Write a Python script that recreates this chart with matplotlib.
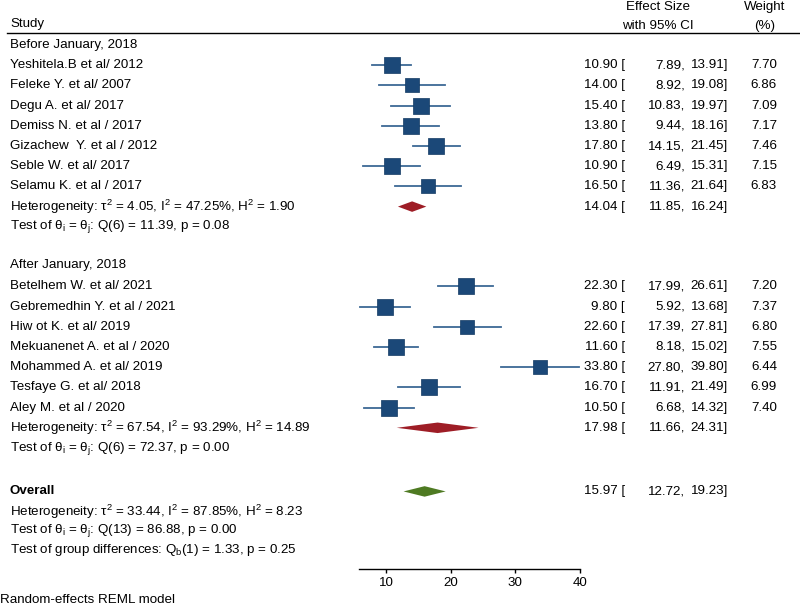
import matplotlib
matplotlib.use("Agg")
import matplotlib.pyplot as plt
import matplotlib.transforms as mtransforms
from matplotlib.lines import Line2D

plt.rcParams['font.family'] = ['Liberation Sans', 'DejaVu Sans']
plt.rcParams['mathtext.fontset'] = 'custom'
plt.rcParams['mathtext.rm'] = 'Liberation Sans'
plt.rcParams['mathtext.it'] = 'Liberation Sans:italic'

# ---- data ----
before_names = ["Yeshitela.B et al/ 2012", "Feleke Y. et al/ 2007", "Degu A. et al/ 2017",
                "Demiss N. et al / 2017", "Gizachew  Y. et al / 2012", "Seble W. et al/ 2017",
                "Selamu K. et al / 2017"]
before_es = [10.90, 14.00, 15.40, 13.80, 17.80, 10.90, 16.50]
before_lo = [7.89, 8.92, 10.83, 9.44, 14.15, 6.49, 11.36]
before_hi = [13.91, 19.08, 19.97, 18.16, 21.45, 15.31, 21.64]
before_w = [7.70, 6.86, 7.09, 7.17, 7.46, 7.15, 6.83]
before_pool = [14.04, 11.85, 16.24]
before_het = r"Heterogeneity: τ$^\mathrm{2}$ = 4.05, I$^\mathrm{2}$ = 47.25%, H$^\mathrm{2}$ = 1.90"
before_test = r"Test of θ$_\mathrm{i}$ = θ$_\mathrm{j}$: Q(6) = 11.39, p = 0.08"

after_names = ["Betelhem W. et al/ 2021", "Gebremedhin Y. et al / 2021", "Hiw ot K. et al/ 2019",
               "Mekuanenet A. et al / 2020", "Mohammed A. et al/ 2019", "Tesfaye G. et al/ 2018",
               "Aley M. et al / 2020"]
after_es = [22.30, 9.80, 22.60, 11.60, 33.80, 16.70, 10.50]
after_lo = [17.99, 5.92, 17.39, 8.18, 27.80, 11.91, 6.68]
after_hi = [26.61, 13.68, 27.81, 15.02, 39.80, 21.49, 14.32]
after_w = [7.20, 7.37, 6.80, 7.55, 6.44, 6.99, 7.40]
after_pool = [17.98, 11.66, 24.31]
after_het = r"Heterogeneity: τ$^\mathrm{2}$ = 67.54, I$^\mathrm{2}$ = 93.29%, H$^\mathrm{2}$ = 14.89"
after_test = r"Test of θ$_\mathrm{i}$ = θ$_\mathrm{j}$: Q(6) = 72.37, p = 0.00"

overall_pool = [15.97, 12.72, 19.23]
overall_het = r"Heterogeneity: τ$^\mathrm{2}$ = 33.44, I$^\mathrm{2}$ = 87.85%, H$^\mathrm{2}$ = 8.23"
overall_test = r"Test of θ$_\mathrm{i}$ = θ$_\mathrm{j}$: Q(13) = 86.88, p = 0.00"
group_test = r"Test of group differences: Q$_\mathrm{b}$(1) = 1.33, p = 0.25"

xticks = [10, 20, 30, 40]

SQ = '#1b4878'
CI = '#3d6995'
RED = '#9e1d26'
GREEN = '#4e7a22'
FS = 9.6

fig = plt.figure(figsize=(8, 6.1), dpi=100)
ax = fig.add_axes([359/800, 1-569/610, 221/800, 569/610])
ax.set_xlim(5.83, 40)
ax.set_ylim(25.94, -2.228)
for s in ['left', 'top', 'right']:
    ax.spines[s].set_visible(False)
ax.spines['bottom'].set_linewidth(1.0)
ax.set_yticks([])
ax.set_xticks(xticks)
ax.tick_params(axis='x', length=3, width=1, pad=3, labelsize=FS)

tr = mtransforms.blended_transform_factory(fig.transFigure, ax.transData)

def txt(xpx, y, s, ha='left', **kw):
    ax.text(xpx/800, y, s, transform=tr, ha=ha, va='center', fontsize=FS, clip_on=False, **kw)

def num_cols(y, es, lo, hi, w=None):
    txt(625, y, "%.2f [" % es, ha='right')
    txt(685, y, "%.2f," % lo, ha='right')
    txt(728, y, "%.2f]" % hi, ha='right')
    if w is not None:
        txt(777, y, "%.2f" % w, ha='right')

def diamond(y, pool, color):
    es, lo, hi = pool
    h = 0.26
    ax.fill([lo, es, hi, es], [y, y-h, y, y+h], color=color, lw=0, clip_on=False)

def studies(start, names, es, lo, hi, w):
    for i in range(len(names)):
        y = start + i
        txt(10, y, names[i])
        ax.plot([lo[i], hi[i]], [y, y], color=CI, lw=1.3, clip_on=False, zorder=2)
        side = 2.15 * w[i] * 0.72
        ax.scatter([es[i]], [y], marker='s', s=side**2, color=SQ, edgecolors='#123a63',
                   linewidths=0.5, zorder=3, clip_on=False)
        num_cols(y, es[i], lo[i], hi[i], w[i])

# header
txt(10, -1.04, "Study")
txt(658, -1.88, "Effect Size", ha='center')
txt(658, -0.94, "with 95% CI", ha='center')
txt(765, -1.88, "Weight", ha='center')
txt(765, -0.94, "(%)", ha='center')
fig.add_artist(Line2D([7/800, 1.0], [1-33/610]*2, color='black', lw=1.0))

# before group
txt(10, 0, "Before January, 2018")
studies(1, before_names, before_es, before_lo, before_hi, before_w)
txt(10, 8, before_het)
diamond(8, before_pool, RED)
num_cols(8, *before_pool)
txt(10, 9, before_test)

# after group
txt(10, 10.9, "After January, 2018")
studies(11.95, after_names, after_es, after_lo, after_hi, after_w)
txt(10, 18.95, after_het)
diamond(18.95, after_pool, RED)
num_cols(18.95, *after_pool)
txt(10, 19.95, after_test)

# overall
txt(10, 22.1, "Overall", fontweight='bold')
diamond(22.1, overall_pool, GREEN)
num_cols(22.1, *overall_pool)
txt(10, 23.1, overall_het)
txt(10, 24.05, overall_test)
txt(10, 25.0, group_test)

fig.text(0.0, 1-600/610, "Random-effects REML model", ha='left', va='center', fontsize=FS)

fig.savefig("out.png", dpi=100, facecolor='white')
